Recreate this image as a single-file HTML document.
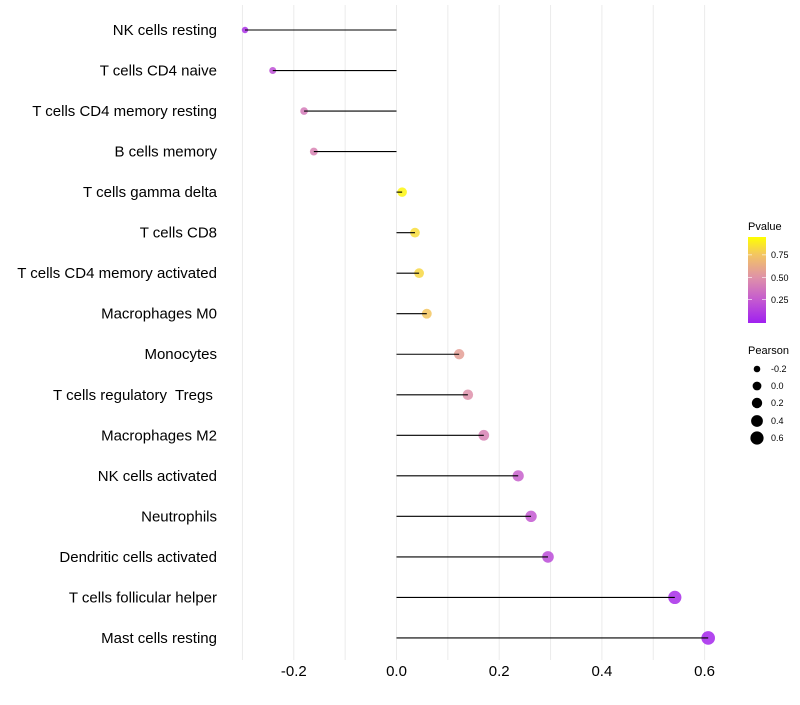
<!DOCTYPE html>
<html><head><meta charset="utf-8"><style>
body{margin:0;background:#fff;font-family:"Liberation Sans",sans-serif}
svg text{font-family:"Liberation Sans",sans-serif;white-space:pre}
</style></head><body>
<svg id="c" width="800" height="700" xmlns="http://www.w3.org/2000/svg">
<defs><linearGradient id="pg" x1="0" y1="1" x2="0" y2="0">
<stop offset="0" stop-color="#a020f0"/><stop offset="0.27" stop-color="#c45ad0"/><stop offset="0.53" stop-color="#df92a8"/><stop offset="0.8" stop-color="#f3c660"/><stop offset="1" stop-color="#ffff00"/>
</linearGradient></defs>
<g id="grid"></g><g id="marks"></g><g id="labels"></g><g id="xt"></g>
<g>
<text x="748" y="230" font-size="11">Pvalue</text>
<rect x="748" y="237" width="18" height="86" fill="url(#pg)"/>
<g stroke="#fff" stroke-opacity="0.6"><line x1="748" x2="752" y1="254.8" y2="254.8"/><line x1="762" x2="766" y1="254.8" y2="254.8"/><line x1="748" x2="752" y1="277.5" y2="277.5"/><line x1="762" x2="766" y1="277.5" y2="277.5"/><line x1="748" x2="752" y1="299.5" y2="299.5"/><line x1="762" x2="766" y1="299.5" y2="299.5"/></g>
<text x="771" y="258" font-size="9">0.75</text><text x="771" y="281" font-size="9">0.50</text><text x="771" y="303" font-size="9">0.25</text>
</g>
<g>
<text x="748" y="354" font-size="11">Pearson</text>
<circle cx="757" cy="369" r="3.3"/><text x="771" y="372" font-size="9">-0.2</text>
<circle cx="757" cy="386" r="4.4"/><text x="771" y="389" font-size="9">0.0</text>
<circle cx="757" cy="403" r="5.2"/><text x="771" y="406" font-size="9">0.2</text>
<circle cx="757" cy="421" r="5.9"/><text x="771" y="424" font-size="9">0.4</text>
<circle cx="757" cy="438" r="6.6"/><text x="771" y="441" font-size="9">0.6</text>
</g>
</svg>
<script>
const categories=["NK cells resting","T cells CD4 naive","T cells CD4 memory resting","B cells memory","T cells gamma delta","T cells CD8","T cells CD4 memory activated","Macrophages M0","Monocytes","T cells regulatory  Tregs ","Macrophages M2","NK cells activated","Neutrophils","Dendritic cells activated","T cells follicular helper","Mast cells resting"];
const pearson=[-0.295,-0.241,-0.180,-0.161,0.011,0.036,0.044,0.059,0.122,0.139,0.170,0.237,0.262,0.295,0.542,0.607];
const pvalue=[0.08,0.22,0.42,0.46,0.97,0.88,0.86,0.80,0.60,0.52,0.45,0.30,0.26,0.20,0.06,0.03];
const xTicks=[-0.2,0,0.2,0.4,0.6];
const xTickLabels=["-0.2","0.0","0.2","0.4","0.6"];
const NS="http://www.w3.org/2000/svg";
const xs=v=>396.5+v*513.5;
const ys=i=>30+i*40.53;
const rs=v=>Math.sqrt(Math.max(4,22+40*v));
const stops=[[0,[160,32,240]],[0.27,[196,90,208]],[0.53,[223,146,168]],[0.8,[243,198,96]],[1,[255,255,0]]];
function col(p){for(let i=1;i<stops.length;i++){if(p<=stops[i][0]){const a=stops[i-1],b=stops[i],t=(p-a[0])/(b[0]-a[0]);return "rgb("+a[1].map((c,k)=>Math.round(c+(b[1][k]-c)*t)).join(",")+")";}}return "rgb(255,255,0)";}
function mk(t,at,parent){const e=document.createElementNS(NS,t);for(const k in at)e.setAttribute(k,at[k]);document.getElementById(parent).appendChild(e);return e;}
for(let v=-0.3;v<=0.65;v+=0.1){const g=mk("line",{x1:xs(v),x2:xs(v),y1:5,y2:660,stroke:"#ebebeb","stroke-width":1},"grid");

}
categories.forEach((c,i)=>{
const p=mk("circle",{cx:xs(pearson[i]),cy:ys(i),r:rs(pearson[i]),fill:col(pvalue[i]),"fill-opacity":0.85},"marks");


const l=mk("line",{x1:xs(0),x2:xs(pearson[i]),y1:ys(i),y2:ys(i),stroke:"#000","stroke-width":1.1},"marks");


const t=mk("text",{x:217,y:ys(i)+5,"text-anchor":"end","font-size":15,fill:"#000"},"labels");


t.textContent=c;});
xTicks.forEach((v,i)=>{const t=mk("text",{x:xs(v),y:676,"text-anchor":"middle","font-size":15,fill:"#000"},"xt");


t.textContent=xTickLabels[i];});
</script>
</body></html>
